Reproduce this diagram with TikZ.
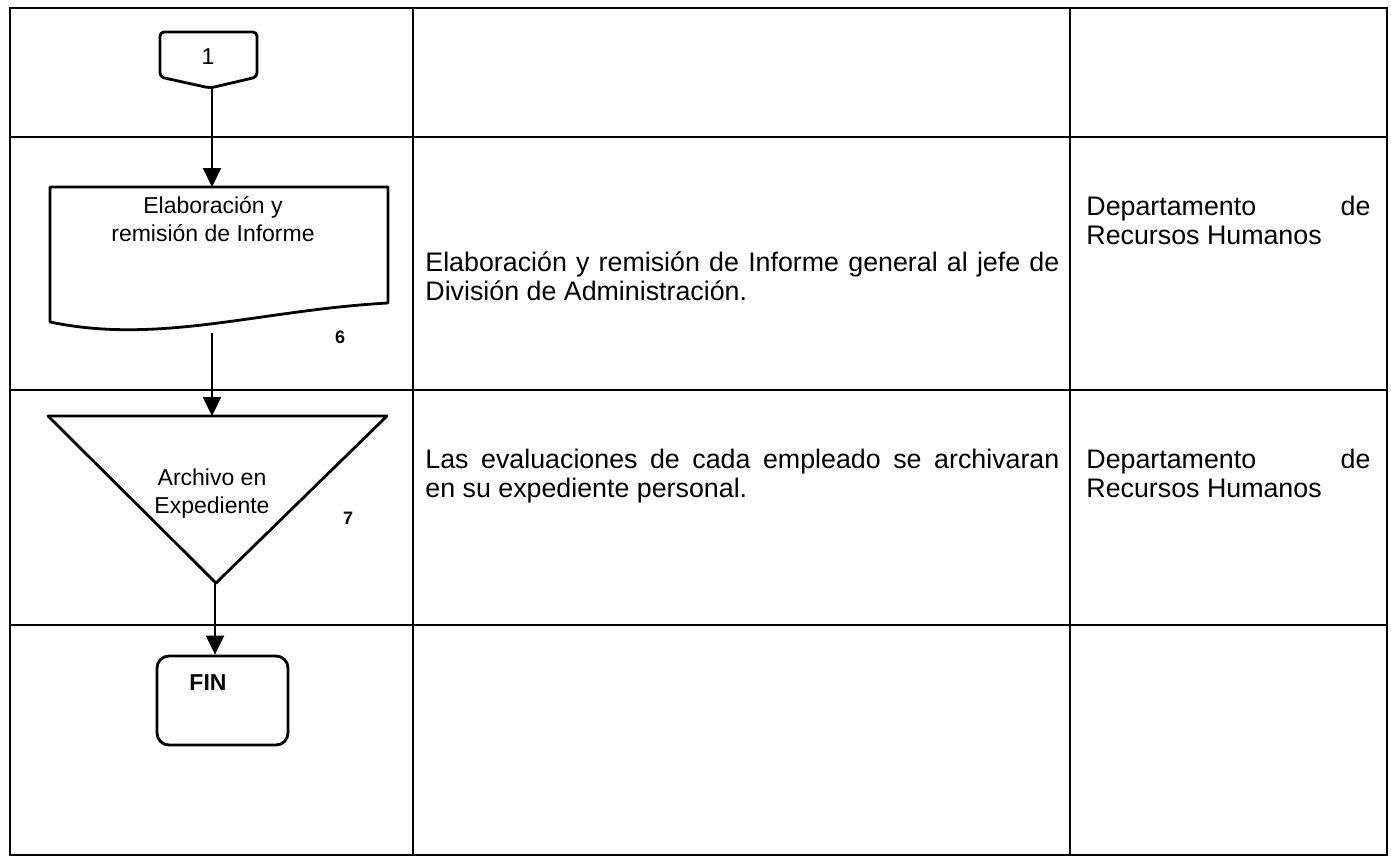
\documentclass[tikz,border=0pt]{standalone}
\usepackage{fontspec}
\setmainfont{Liberation Sans}
\usetikzlibrary{arrows.meta, positioning}

\begin{document}
\begin{tikzpicture}[
  x=0.5pt, y=-0.5pt,
  grid/.style={line width=1pt},
  shp/.style={line width=1.4pt, line join=round},
  flow/.style={-{Triangle[length=9.5pt, width=9pt]}, line width=1.1pt},
  ftxt/.style={align=center, inner sep=0pt, font=\fontsize{11.5}{14}\selectfont},
  desc/.style={align=justify, anchor=north west, inner sep=0pt, text width=317pt,
               font=\fontsize{13.4}{14.5}\selectfont},
  resp/.style={align=justify, anchor=north west, inner sep=0pt, text width=142pt,
               font=\fontsize{13.4}{14.5}\selectfont},
  num/.style={inner sep=0pt, font=\fontsize{9}{10}\selectfont\bfseries},
  finbox/.style={draw, line width=1.4pt, rounded corners=6pt,
                 minimum width=65.5pt, minimum height=44.5pt}
]
\useasboundingbox (0,0) rectangle (1391,858);

% table
\draw[grid] (10,8) rectangle (1387,855);
\draw[grid] (413,8) -- (413,855) (1070,8) -- (1070,855);
\foreach \yy in {137,390,625}
  \draw[grid] (10,\yy) -- (1387,\yy);

% connector 1
\draw[shp, rounded corners=2pt] (160,32) -- (257,32) -- (257,77) -- (210,88) -- (160,77) -- cycle;
\node[ftxt] (con1) at (208,57) {1};
\coordinate (con1tip) at (212,88);

% document
\draw[shp] (50,187) -- (388,187) -- (388,303) .. controls (260,310) and (160,345) .. (50,322) -- cycle;
\coordinate (doctop) at (212,187);
\coordinate (docbot) at (212,333);
\node[ftxt] (elab) at (213,219) {Elaboración y\\remisión de Informe};
\node[num] (n6) at (340,337) {6};

% archive
\draw[shp] (48,416) -- (387,416) -- (216,583) -- cycle;
\coordinate (tritop) at (212,416);
\coordinate (tritip) at (215,583);
\node[ftxt] (arch) at (212,494) {Archivo en\\Expediente};
\node[num] (n7) at (348,518) {7};

% end
\node[finbox] (fin) at (222.5,700.5) {};
\node[ftxt, font=\fontsize{11.5}{14}\selectfont\bfseries] (fintxt) at (208,683) {FIN};

\draw[flow] (con1tip) -- (doctop);
\draw[flow] (docbot) -- (tritop);
\draw[flow] (tritip) -- (tritip |- fin.north);

% descriptions
\node[desc] (d6) at (425,251) {Elaboración y remisión de Informe general al jefe de\linebreak División de Administración.};
\node[resp] (r6) at (1086,196) {Departamento de\linebreak Recursos Humanos};
\node[desc] (d7) at (425,449) {Las evaluaciones de cada empleado se archivaran\linebreak en su expediente personal.};
\node[resp] (r7) at (1086,449) {Departamento de\linebreak Recursos Humanos};

\end{tikzpicture}
\end{document}
